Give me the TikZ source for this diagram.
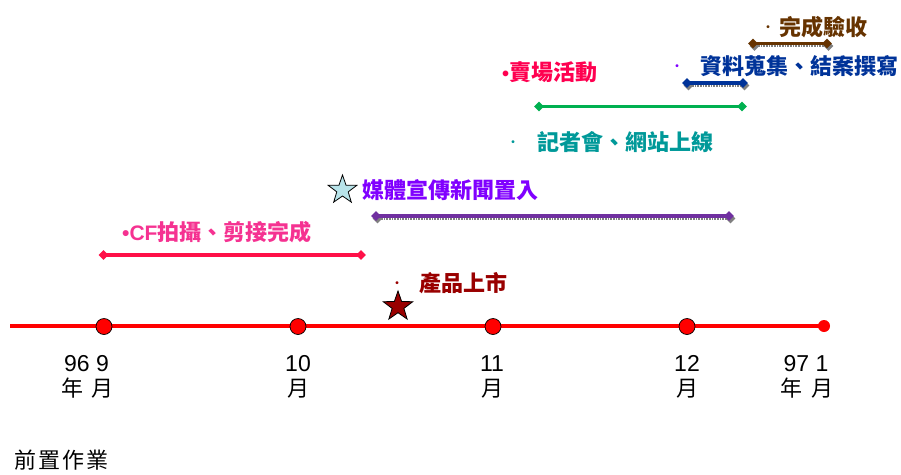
\documentclass[tikz,border=0pt]{standalone}
\usepackage{fontspec}
\setmainfont{Liberation Sans}
\newfontfamily\cjk{Noto Sans CJK TC}
\usetikzlibrary{shapes.geometric}
\definecolor{tlred}{RGB}{255,0,0}
\definecolor{cfline}{RGB}{255,16,72}
\definecolor{cftext}{RGB}{245,50,145}
\definecolor{purpline}{RGB}{112,48,160}
\definecolor{purptext}{RGB}{128,0,255}
\definecolor{crimson}{RGB}{255,0,80}
\definecolor{greenline}{RGB}{0,176,80}
\definecolor{tealtext}{RGB}{0,153,153}
\definecolor{bluetext}{RGB}{0,51,153}
\definecolor{browntext}{RGB}{102,51,0}
\definecolor{darkred}{RGB}{153,0,0}
\definecolor{starcyan}{RGB}{184,228,234}
\begin{document}
\begin{tikzpicture}[x=1pt,y=-1pt,
  tick/.style={circle,fill=tlred,draw=black,line width=0.7pt,minimum size=16pt,inner sep=0pt},
  enddot/.style={circle,fill=tlred,minimum size=12pt,inner sep=0pt},
  dia/.style={diamond,aspect=1,inner sep=0pt,minimum size=10pt,fill=#1},
  bar/.style={line width=3.2pt,draw=#1},
  shad/.style={draw=gray,line width=2.6pt,dash pattern=on 0.8pt off 0.8pt},
  lab/.style={inner sep=0pt,anchor=base west},
  cen/.style={inner sep=0pt,anchor=base},
  blab/.style={font=\cjk\bfseries\fontsize{22}{26}\selectfont},
  bul/.style={font=\cjk\fontsize{14}{16}\selectfont,inner sep=0pt,anchor=base},
  num/.style={font=\fontsize{23}{27}\selectfont},
  mon/.style={font=\cjk\fontsize{22}{26}\selectfont}]
\useasboundingbox (0,0) rectangle (901,474);

% ---------- timeline ----------
\coordinate (L) at (10,326);
\node[enddot] (E) at (824,326) {};
\draw[tlred,line width=4pt] (L) -- (E.center);
\node[tick] (t9) at (104,326.5) {};
\node[tick] (t10) at (298,326.5) {};
\node[tick] (t11) at (493,326.5) {};
\node[tick] (t12) at (687,326.5) {};

\node[cen,num] (n9) at (86.5,371) {96 9};
\node[cen,mon] (m9) at (87.5,396) {年\hspace{9pt}月};
\node[cen,num] (n10) at (298,371) {10};
\node[cen,mon] (m10) at (298,396) {月};
\node[cen,num] (n11) at (492,371) {11};
\node[cen,mon] (m11) at (492,396) {月};
\node[cen,num] (n12) at (687,371) {12};
\node[cen,mon] (m12) at (687,396) {月};
\node[cen,num] (n1) at (806,371) {97 1};
\node[cen,mon] (m1) at (806.5,396) {年\hspace{9pt}月};

% ---------- CF ----------
\node[dia=cfline] (cfa) at (103.5,255) {};
\node[dia=cfline] (cfb) at (361,255) {};
\draw[bar=cfline] (cfa.center) -- (cfb.center);
\node[lab,text=cftext] (cf) at (122,240.5)
  {\bfseries\fontsize{21}{24}\selectfont •CF\cjk\fontsize{22}{26}\selectfont 拍攝、剪接完成};

% ---------- media ----------
\node[dia=gray] (mas) at (377.5,218.5) {};
\node[dia=gray] (mbs) at (730.5,218.5) {};
\draw[shad] (mas.center) -- (mbs.center);
\node[dia=purpline] (ma) at (376,216) {};
\node[dia=purpline] (mb) at (729,216) {};
\draw[bar=purpline] (ma.center) -- (mb.center);
\node[star,star points=5,star point ratio=2.5,minimum size=30pt,inner sep=0pt,
  draw=black,line width=0.8pt,fill=starcyan] (s1) at (342.5,190) {};
\node[lab,blab,text=purptext] (media) at (362,198.5) {媒體宣傳新聞置入};

% ---------- product launch ----------
\node[star,star points=5,star point ratio=2.5,minimum size=31pt,inner sep=0pt,
  draw=black,line width=0.8pt,fill=darkred] (s2) at (398,306.5) {};
\node[bul,text=darkred] (pb) at (397,288.5) {・};
\node[lab,blab,text=darkred] (prod) at (419,291.5) {產品上市};

% ---------- press / website ----------
\node[bul,text=tealtext] (tb) at (513,147.5) {・};
\node[lab,blab,text=tealtext] (press) at (537,150.5) {記者會、網站上線};

% ---------- store activities ----------
\node[dia=greenline] (ga) at (539,106.5) {};
\node[dia=greenline] (gb) at (742,106.5) {};
\draw[bar=greenline] (ga.center) -- (gb.center);
\node[lab,text=crimson] (store) at (502,80.5)
  {\bfseries\fontsize{20}{22}\selectfont •\cjk\fontsize{22}{26}\selectfont 賣場活動};

% ---------- data collection ----------
\node[dia=gray] (bas) at (688.5,85.5) {};
\node[dia=gray] (bbs) at (744.5,85.5) {};
\draw[shad] (bas.center) -- (bbs.center);
\node[dia=bluetext] (ba) at (687,83) {};
\node[dia=bluetext] (bb) at (743,83) {};
\draw[bar=bluetext] (ba.center) -- (bb.center);
\node[bul,text=purptext] (bbul) at (677,71.5) {・};
\node[lab,blab,text=bluetext] (data) at (700,74.5) {資料蒐集、結案撰寫};

% ---------- acceptance ----------
\node[dia=gray] (cas) at (754.5,46) {};
\node[dia=gray] (cbs) at (828.5,46) {};
\draw[shad] (cas.center) -- (cbs.center);
\node[dia=browntext] (ca) at (753,43.5) {};
\node[dia=browntext] (cb) at (827,43.5) {};
\draw[bar=browntext] (ca.center) -- (cb.center);
\node[bul,text=browntext] (abul) at (768,32.5) {・};
\node[lab,blab,text=browntext] (accept) at (779,35.5) {完成驗收};

% ---------- footer ----------
\node[lab,font=\cjk\fontsize{22}{26}\selectfont] (pre) at (14,468)
  {前\hspace{2pt}置\hspace{2pt}作\hspace{2pt}業};
\end{tikzpicture}
\end{document}
